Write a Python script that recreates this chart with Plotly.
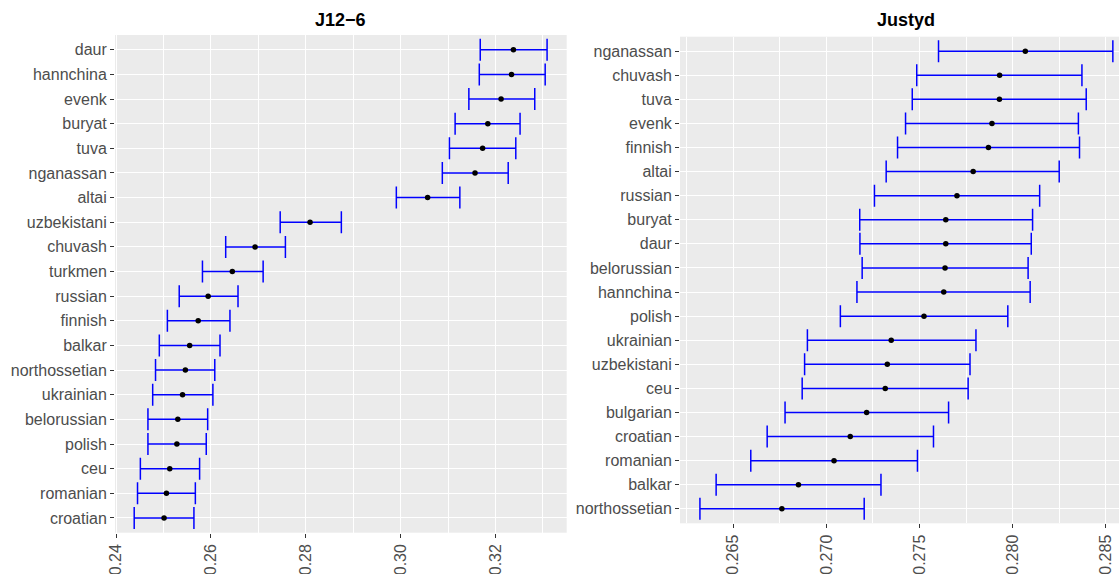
import plotly.graph_objects as go

# ---- Panel 1: J12-6 ----
j_pops = ["daur", "hannchina", "evenk", "buryat", "tuva", "nganassan", "altai",
          "uzbekistani", "chuvash", "turkmen", "russian", "finnish", "balkar",
          "northossetian", "ukrainian", "belorussian", "polish", "ceu",
          "romanian", "croatian"]
j_lower = [0.3168, 0.3166, 0.3144, 0.3115, 0.3103, 0.3088, 0.2991,
           0.2746, 0.2631, 0.2582, 0.2533, 0.2508, 0.2491,
           0.2483, 0.2477, 0.2467, 0.2467, 0.2451,
           0.2445, 0.2438]
j_mean = [0.3238, 0.3234, 0.3212, 0.3184, 0.3173, 0.3157, 0.3057,
          0.2809, 0.2693, 0.2645, 0.2594, 0.2573, 0.2555,
          0.2546, 0.2540, 0.2530, 0.2528, 0.2513,
          0.2506, 0.2501]
j_upper = [0.3309, 0.3305, 0.3283, 0.3252, 0.3243, 0.3227, 0.3125,
           0.2875, 0.2757, 0.2710, 0.2657, 0.2640, 0.2619,
           0.2608, 0.2604, 0.2593, 0.2590, 0.2576,
           0.2567, 0.2564]

# ---- Panel 2: Justyd ----
u_pops = ["nganassan", "chuvash", "tuva", "evenk", "finnish", "altai", "russian",
          "buryat", "daur", "belorussian", "hannchina", "polish", "ukrainian",
          "uzbekistani", "ceu", "bulgarian", "croatian", "romanian", "balkar",
          "northossetian"]
u_lower = [0.27602, 0.27485, 0.27461, 0.27425, 0.27382, 0.27321, 0.27258,
           0.27179, 0.27180, 0.27192, 0.27164, 0.27075, 0.26898,
           0.26883, 0.26870, 0.26778, 0.26682, 0.26594, 0.26408,
           0.26321]
u_mean = [0.28068, 0.27930, 0.27929, 0.27889, 0.27870, 0.27788, 0.27701,
          0.27641, 0.27641, 0.27637, 0.27630, 0.27524, 0.27348,
          0.27327, 0.27316, 0.27216, 0.27128, 0.27041, 0.26850,
          0.26761]
u_upper = [0.28538, 0.28372, 0.28395, 0.28353, 0.28359, 0.28250, 0.28145,
           0.28107, 0.28100, 0.28083, 0.28094, 0.27974, 0.27803,
           0.27771, 0.27761, 0.27656, 0.27575, 0.27489, 0.27293,
           0.27203]

titles = ["J12\u22126", "Justyd"]

W, H = 1119, 574
FONT = "Liberation Sans, Arial, sans-serif"
TXT = "#4D4D4D"

fig = go.Figure()


def add_panel(pops, lo, mid, hi, xa, ya):
    fig.add_trace(go.Scatter(
        x=mid, y=pops, mode="markers", xaxis=xa, yaxis=ya,
        marker=dict(color="black", size=5.5),
        error_x=dict(type="data", symmetric=False,
                     array=[h - m for h, m in zip(hi, mid)],
                     arrayminus=[m - l for m, l in zip(mid, lo)],
                     color="#0000FF", thickness=1.5, width=11),
        showlegend=False, hoverinfo="skip"))


add_panel(j_pops, j_lower, j_mean, j_upper, "x", "y")
add_panel(u_pops, u_lower, u_mean, u_upper, "x2", "y2")


def px_x(p):
    return p / W


def px_y(p):
    return 1 - p / H


common_x = dict(ticks="outside", ticklen=4, tickcolor="#333333", tickwidth=1,
                tickangle=-90, tickfont=dict(size=16, color=TXT, family=FONT),
                showgrid=True, gridcolor="white", gridwidth=1.4,
                zeroline=False, showline=False, automargin=False)
common_y = dict(type="category", ticks="outside", ticklen=4, tickcolor="#333333",
                tickwidth=1, tickfont=dict(size=16, color=TXT, family=FONT),
                showgrid=True, gridcolor="white", gridwidth=1.4,
                zeroline=False, showline=False, automargin=False,
                range=[-0.6, 19.6], categoryorder="array")

fig.update_layout(
    width=W, height=H,
    margin=dict(l=0, r=0, t=0, b=0),
    paper_bgcolor="white", plot_bgcolor="#EBEBEB",
    font=dict(family=FONT, color=TXT),
    xaxis=dict(domain=[px_x(115), px_x(566.7)], range=[0.23975, 0.33504],
               tick0=0.24, dtick=0.02, tickformat=".2f",
               minor=dict(tick0=0.24, dtick=0.01, showgrid=True,
                          gridcolor="white", gridwidth=0.7),
               anchor="y", **common_x),
    yaxis=dict(domain=[px_y(532.7), px_y(35)], anchor="x",
               categoryarray=list(reversed(j_pops)), **common_y),
    xaxis2=dict(domain=[px_x(680), 1.0], range=[0.26214, 0.28571],
                tick0=0.265, dtick=0.005, tickformat=".3f",
                minor=dict(tick0=0.265, dtick=0.0025, showgrid=True,
                           gridcolor="white", gridwidth=0.7),
                anchor="y2", **common_x),
    yaxis2=dict(domain=[px_y(523.3), px_y(36.7)], anchor="x2",
                categoryarray=list(reversed(u_pops)), **common_y),
    annotations=[
        dict(text="<b>%s</b>" % titles[0], x=px_x(340.9), y=px_y(20),
             xref="paper", yref="paper", showarrow=False,
             xanchor="center", yanchor="middle",
             font=dict(size=18, color="black", family=FONT)),
        dict(text="<b>%s</b>" % titles[1], x=px_x(906.5), y=px_y(20),
             xref="paper", yref="paper", showarrow=False,
             xanchor="center", yanchor="middle",
             font=dict(size=18, color="black", family=FONT)),
    ],
)

fig.write_html("out.html")
